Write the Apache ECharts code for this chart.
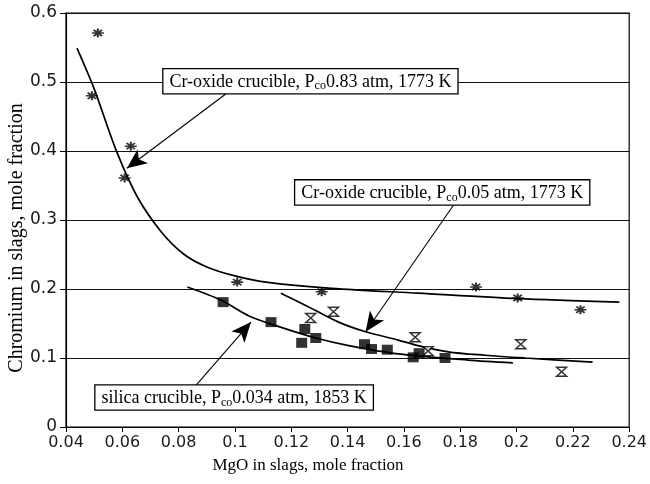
<!DOCTYPE html>
<html>
<head>
<meta charset="utf-8">
<script src="https://cdn.jsdelivr.net/npm/echarts@6/dist/echarts.min.js"></script>
<style>html,body{margin:0;padding:0;background:#fff;}#c{width:650px;height:484px;}</style>
</head>
<body>
<div id="c"></div>
<script>
// ---- data ----
const xTicks = [0.04, 0.06, 0.08, 0.1, 0.12, 0.14, 0.16, 0.18, 0.2, 0.22, 0.24];
const yTicks = [0, 0.1, 0.2, 0.3, 0.4, 0.5, 0.6];

// Cr-oxide crucible, Pco 0.83 atm (asterisks)
const crHighX = [0.0513, 0.0492, 0.0630, 0.0608, 0.1008, 0.1308, 0.1856, 0.2004, 0.2227];
const crHighY = [0.571, 0.480, 0.407, 0.361, 0.210, 0.196, 0.203, 0.187, 0.170];
// Cr-oxide crucible, Pco 0.05 atm (hourglass)
const crLowX = [0.1269, 0.1350, 0.1640, 0.1686, 0.2015, 0.2160];
const crLowY = [0.158, 0.167, 0.130, 0.110, 0.120, 0.080];
// silica crucible (filled squares)
const silX = [0.0958, 0.1128, 0.1248, 0.1237, 0.1287, 0.1460, 0.1485, 0.1541, 0.1633, 0.1654, 0.1746];
const silY = [0.181, 0.152, 0.142, 0.122, 0.129, 0.120, 0.113, 0.112, 0.101, 0.107, 0.100];

// fitted curves
const curveHighX = [0.0439, 0.0500, 0.0580, 0.0654, 0.0740, 0.0820, 0.0900, 0.1000, 0.1110, 0.1343, 0.1650, 0.2004, 0.2365];
const curveHighY = [0.549, 0.490, 0.399, 0.333, 0.282, 0.250, 0.232, 0.219, 0.210, 0.201, 0.194, 0.186, 0.181];
const curveLowX = [0.1163, 0.1262, 0.1368, 0.1464, 0.1580, 0.1650, 0.1757, 0.1888, 0.2030, 0.2270];
const curveLowY = [0.194, 0.174, 0.152, 0.138, 0.126, 0.118, 0.109, 0.104, 0.100, 0.094];
const curveSilX = [0.0831, 0.0950, 0.1050, 0.1167, 0.1287, 0.1404, 0.1580, 0.1828, 0.1987];
const curveSilY = [0.203, 0.184, 0.161, 0.144, 0.129, 0.118, 0.106, 0.097, 0.093];

// annotation boxes and arrows
const boxTexts = [
  ['Cr-oxide crucible, P', 'co', '0.83 atm, 1773 K'],
  ['Cr-oxide crucible, P', 'co', '0.05 atm, 1773 K'],
  ['silica crucible, P', 'co', '0.034 atm, 1853 K']
];
const boxAt = [[0.1268, 0.501], [0.1736, 0.340], [0.0997, 0.0428]];
const arrowFrom = [[0.0972, 0.484], [0.1782, 0.325], [0.0863, 0.061]];
const arrowTo = [[0.0616, 0.375], [0.1464, 0.138], [0.1057, 0.152]];

const zip = (a, b) => a.map((v, i) => [v, b[i]]);
const serif = 'Liberation Serif';
const sans = 'DejaVu Sans';

const asterisk = 'path://M0,5L10,5M5,0L5,10M1.5,1.5L8.5,8.5M8.5,1.5L1.5,8.5';
const hourglass = 'path://M0,0L10,0L0,10L10,10Z';

const chart = echarts.init(document.getElementById('c'), null, {renderer: 'canvas'});

const curveSeries = (x, y) => ({
  type: 'line', data: zip(x, y), smooth: 0.3, showSymbol: false, symbol: 'none',
  lineStyle: {color: '#000', width: 1.7}, silent: true, z: 3
});

chart.setOption({
  animation: false,
  backgroundColor: '#fff',
  grid: {left: 66, right: 18, top: 13, bottom: 57, show: true, borderColor: '#000', borderWidth: 1.2, backgroundColor: 'transparent'},
  xAxis: {
    type: 'value', min: xTicks[0], max: xTicks[xTicks.length - 1], interval: 0.02,
    axisLine: {show: true, onZero: false, lineStyle: {color: '#000', width: 1.2}},
    axisTick: {show: true, inside: false, length: 5, lineStyle: {color: '#000'}},
    splitLine: {show: false},
    axisLabel: {fontFamily: sans, fontSize: 16, color: '#1a1a1a', margin: 8,
      formatter: v => String(+v.toFixed(2))}
  },
  yAxis: {
    type: 'value', min: yTicks[0], max: yTicks[yTicks.length - 1], interval: 0.1,
    axisLine: {show: true, lineStyle: {color: '#000', width: 1.2}},
    axisTick: {show: true, inside: false, length: 6, lineStyle: {color: '#000'}},
    splitLine: {show: true, lineStyle: {color: '#111', width: 1.2}},
    axisLabel: {fontFamily: sans, fontSize: 17, color: '#1a1a1a', margin: 9,
      formatter: v => String(+v.toFixed(1))}
  },
  graphic: [
    {type: 'text', x: 308, y: 466, style: {text: 'MgO in slags, mole fraction', font: '17px "Liberation Serif"', fill: '#000', align: 'center', verticalAlign: 'middle'}},
    {type: 'text', x: 17, y: 238, rotation: Math.PI / 2, style: {text: 'Chromium in slags, mole fraction', font: '20px "Liberation Serif"', fill: '#000', align: 'center', verticalAlign: 'middle'}}
  ],
  series: [
    curveSeries(curveHighX, curveHighY),
    curveSeries(curveLowX, curveLowY),
    curveSeries(curveSilX, curveSilY),
    {type: 'scatter', data: zip(crHighX, crHighY), symbol: asterisk, symbolSize: [12, 9],
      itemStyle: {color: 'transparent', borderColor: '#000', borderWidth: 1.8}, z: 4},
    {type: 'scatter', data: zip(crLowX, crLowY), symbol: hourglass, symbolSize: [10, 9],
      itemStyle: {color: '#fff', borderColor: '#000', borderWidth: 1.5}, z: 4},
    {type: 'scatter', data: zip(silX, silY), symbol: 'rect', symbolSize: [11, 10],
      itemStyle: {color: '#000'}, z: 4},
    {
      type: 'line', data: [], z: 5, silent: true,
      markLine: {
        silent: true, animation: false,
        symbol: ['none', 'arrow'], symbolSize: [13, 20],
        lineStyle: {color: '#000', width: 1.1, type: 'solid'},
        label: {show: false},
        data: arrowFrom.map((f, i) => [{coord: f}, {coord: arrowTo[i]}])
      },
      markPoint: {
        silent: true, animation: false,
        data: boxTexts.map((t, i) => ({
          coord: boxAt[i], symbol: 'rect', symbolSize: 1, itemStyle: {color: 'transparent'},
          label: {
            show: true, position: 'inside',
            formatter: '{t|' + t[0] + '}{s|' + t[1] + '}{t|' + t[2] + '}',
            backgroundColor: '#fff', borderColor: '#000', borderWidth: 1.3,
            padding: [2, 6, 1, 6],
            rich: {
              t: {fontFamily: serif, fontSize: 18, color: '#000', lineHeight: 21, verticalAlign: 'middle'},
              s: {fontFamily: serif, fontSize: 12, color: '#000', lineHeight: 21, verticalAlign: 'bottom', padding: [7, 0, 0, 0]}
            }
          }
        }))
      }
    }
  ]
});
</script>
</body>
</html>
